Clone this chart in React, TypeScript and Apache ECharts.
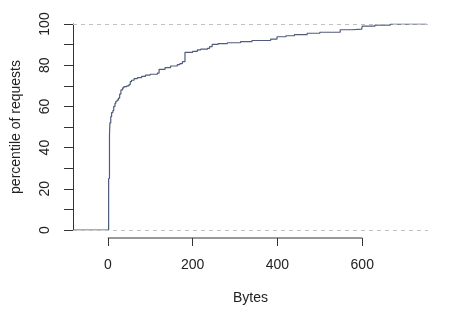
import React, { useEffect, useRef } from "react";
import * as echarts from "echarts";

const bytes = [-82, 2, 4, 5, 7, 9, 12, 14, 17, 19, 22, 25, 28, 31, 35, 38, 45, 50, 53, 56, 62, 70, 80, 89, 100, 117, 121, 135, 148, 164, 170, 176, 182, 200, 211, 219, 235, 240, 246, 260, 282, 313, 340, 384, 399, 420, 440, 470, 500, 548, 575, 599, 600, 630, 666, 700, 752];
const percentile = [0, 25, 46, 52, 55, 57, 58, 60, 61.5, 62.5, 63, 64, 66, 68, 69, 69.6, 70, 70.6, 72, 72.7, 73.5, 74, 74.6, 75.2, 75.6, 76.2, 78, 78.8, 79.6, 80.3, 80.8, 81.7, 86.2, 86.7, 87.4, 87.8, 88.2, 89, 90.1, 90.5, 90.9, 91.4, 92, 92.7, 93.8, 94.3, 94.8, 95.5, 96, 97.2, 97.5, 98, 99, 99.5, 99.9, 100, 100];
const xTicks = [0, 200, 400, 600];
const refLines = [0, 100];

export default function App() {
  const ref = useRef<HTMLDivElement>(null);
  useEffect(() => {
    const chart = echarts.init(ref.current!, null, { renderer: "svg" });
    const font = "'Liberation Sans', Arial, Helvetica, sans-serif";
    const axisColor = "#333333";
    const textColor = "#222222";
    chart.setOption({
      animation: false,
      grid: { left: 72, right: 22, top: 24, bottom: 82 },
      xAxis: {
        type: "value",
        min: -82,
        max: 755,
        offset: 8,
        axisLine: { show: false, onZero: false },
        axisTick: { show: true, length: 8, customValues: xTicks, lineStyle: { color: axisColor, width: 1 } },
        axisLabel: { customValues: xTicks, margin: 19, fontSize: 14, color: textColor, fontFamily: font },
        splitLine: { show: false },
        name: "Bytes",
        nameLocation: "middle",
        nameGap: 52,
        nameTextStyle: { fontSize: 14, color: textColor, fontFamily: font },
      },
      yAxis: {
        type: "value",
        min: 0,
        max: 100,
        interval: 10,
        axisLine: { show: true, onZero: false, lineStyle: { color: axisColor, width: 1 } },
        axisTick: { show: true, length: 9, lineStyle: { color: axisColor, width: 1 } },
        axisLabel: {
          rotate: 90,
          margin: 22,
          fontSize: 14,
          color: textColor,
          fontFamily: font,
          formatter: (v: number) => (v % 20 === 0 ? String(v) : ""),
        },
        splitLine: { show: false },
        name: "percentile of requests",
        nameLocation: "middle",
        nameRotate: 90,
        nameGap: 51,
        nameTextStyle: { fontSize: 14, color: textColor, fontFamily: font },
      },
      series: [
        {
          type: "line",
          step: "end",
          data: bytes.map((b, i) => [b, percentile[i]]),
          showSymbol: false,
          symbol: "none",
          lineStyle: { color: "#4f5d7a", width: 1.2 },
          markLine: {
            silent: true,
            symbol: ["none", "none"],
            label: { show: false },
            lineStyle: { type: [4, 4], color: "#c0c0c0", width: 1 },
            data: refLines.map((y) => ({ yAxis: y })),
          },
          z: 3,
        },
      ],
    });
    const a = chart.convertToPixel({ gridIndex: 0 }, [xTicks[0], 0]) as number[];
    const b = chart.convertToPixel({ gridIndex: 0 }, [xTicks[xTicks.length - 1], 0]) as number[];
    chart.setOption({
      graphic: [
        {
          type: "line",
          shape: { x1: a[0], y1: a[1] + 8, x2: b[0], y2: b[1] + 8 },
          style: { stroke: axisColor, lineWidth: 1 },
          silent: true,
        },
      ],
    });
    return () => chart.dispose();
  }, []);
  return <div ref={ref} style={{ width: 450, height: 312, position: "fixed", left: 0, top: 0 }} />;
}
